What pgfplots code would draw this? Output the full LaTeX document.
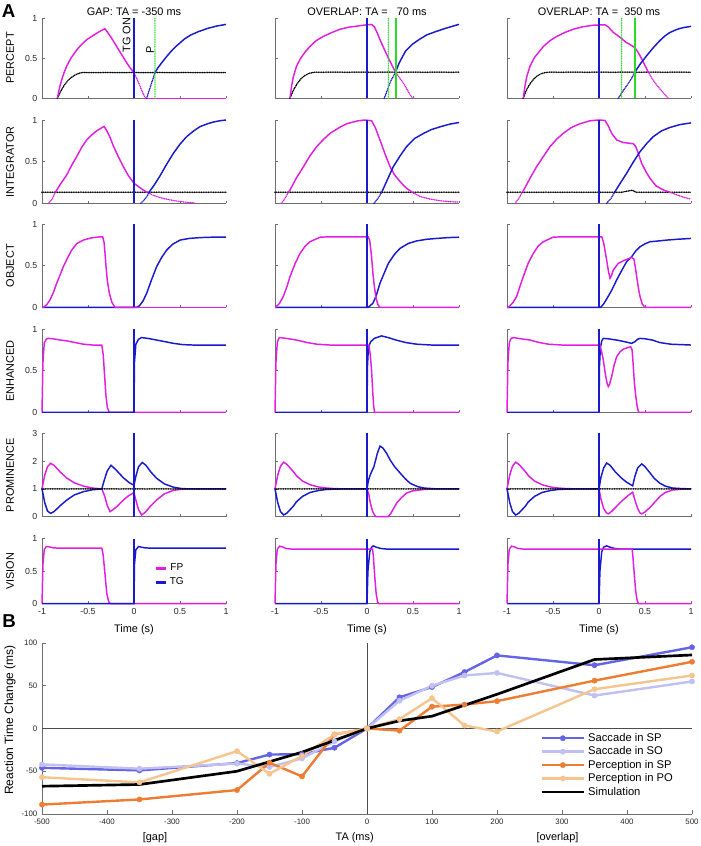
\documentclass[border=0pt]{standalone}
\usepackage{pgfplots}
\pgfplotsset{compat=1.18}
\usepackage{fontspec}
\setmainfont{Liberation Sans}
\definecolor{magC}{RGB}{225,30,225}
\definecolor{bluC}{RGB}{25,25,205}
\definecolor{grnC}{RGB}{40,220,40}
\definecolor{axC}{RGB}{110,110,110}
\definecolor{sacSP}{RGB}{100,100,228}
\definecolor{sacSO}{RGB}{192,192,242}
\definecolor{perSP}{RGB}{236,125,50}
\definecolor{perPO}{RGB}{246,196,142}
\pgfplotsset{
  /pgf/number format/assume math mode=true,
  pa/.style={scale only axis, width=138pt, xmin=-1, xmax=1, ymin=0, ymax=1,
    axis x line*=bottom, axis y line*=left,
    axis line style={-, draw=axC, line width=0.5pt},
    every tick/.style={axC, line width=0.5pt}, tick align=inside, major tick length=2pt,
    xtick={-1,-0.5,0,0.5,1}, ytick={0,0.5,1},
    tick label style={font=\fontsize{6.6}{7}\selectfont, text=black!85},
    anchor=south west, clip=false},
  noxl/.style={xticklabels={}},
  noyl/.style={yticklabels={}},
  c1/.style={at={(31.5pt,#1)}},
  c2/.style={at={(206.25pt,#1)}, noyl},
  c3/.style={at={(380.25pt,#1)}, noyl},
  r1/.style={height=60.2pt, noxl},
  r2/.style={height=62.5pt, noxl},
  r3/.style={height=62.25pt, noxl},
  r4/.style={height=62.25pt, noxl},
  r5/.style={height=62.5pt, noxl, ymax=3, ytick={0,1,2,3}},
  r6/.style={height=48.75pt},
  mg/.style={magC, line width=1.1pt},
  bl/.style={bluC, line width=1.1pt},
  dt/.style={line width=1.25pt, line cap=round, dash pattern=on 0pt off 1.3pt},
  thr/.style={black, line width=1.3pt, line cap=round, dash pattern=on 0pt off 1.3pt},
  gdt/.style={grnC, line width=1.1pt, line cap=round, dash pattern=on 0pt off 1.3pt},
  gsl/.style={grnC, line width=1.5pt},
  bm/.style={line width=1.8pt, mark=*, mark size=2pt, mark options={solid, line width=0.3pt}},
}
\newcommand{\lab}[1]{\fontsize{8.2}{9}\selectfont #1}
\begin{document}
\begin{tikzpicture}
\useasboundingbox (0,0) rectangle (525pt,634.5pt);
% ---------------- labels ----------------
\node[font=\bfseries\fontsize{14}{14}\selectfont] at (6.4pt,625.9pt) {A};
\node[font=\bfseries\fontsize{14}{14}\selectfont] at (6.8pt,168.4pt) {B};
\node[font=\lab{}] at (100.5pt,625.5pt) {GAP: TA = -350 ms};
\node[font=\lab{}] at (275.25pt,625.5pt) {OVERLAP: TA =\ \ \ 70 ms};
\node[font=\lab{}] at (449.25pt,625.5pt) {OVERLAP: TA =\ \ 350 ms};
\node[font=\lab{}, rotate=90] at (7.5pt,591pt) {PERCEPT};
\node[font=\lab{}, rotate=90] at (7.5pt,513.2pt) {INTEGRATOR};
\node[font=\lab{}, rotate=90] at (7.5pt,435.2pt) {OBJECT};
\node[font=\lab{}, rotate=90] at (7.5pt,356.4pt) {ENHANCED};
\node[font=\lab{}, rotate=90] at (7.5pt,278.25pt) {PROMINENCE};
\node[font=\lab{}, rotate=90] at (7.5pt,206.1pt) {VISION};
\node[font=\lab{}] at (100.5pt,162.5pt) {Time (s)};
\node[font=\lab{}] at (275.25pt,162.5pt) {Time (s)};
\node[font=\lab{}] at (449.25pt,162.5pt) {Time (s)};
\node[font=\lab{}, rotate=90] at (95pt,608.3pt) {TG ON};
\node[font=\lab{}, rotate=90] at (112.5pt,597pt) {P};
\node[font=\fontsize{9}{10}\selectfont, rotate=90] at (7.5pt,94.5pt) {Reaction Time Change (ms)};
\node[font=\lab{}] at (266pt,6pt) {TA (ms)};
\node[font=\lab{}] at (116.25pt,6pt) {[gap]};
\node[font=\lab{}] at (418.1pt,6pt) {[overlap]};

% ================= COLUMN 1 : GAP -350 =================
% PERCEPT
\begin{axis}[pa, c1=560.8pt, r1]
\addplot[thr] coordinates {(-0.833,0) (-0.8,0.08) (-0.76,0.16) (-0.72,0.22) (-0.68,0.26) (-0.64,0.29) (-0.6,0.31) (-0.56,0.32) (1,0.32)};
\addplot[mg] coordinates {(-0.833,0) (-0.81,0.13) (-0.786,0.23) (-0.76,0.32) (-0.732,0.40) (-0.68,0.51) (-0.623,0.60) (-0.57,0.67) (-0.514,0.73) (-0.46,0.77) (-0.406,0.81) (-0.36,0.84) (-0.315,0.866) (-0.25,0.76) (-0.188,0.645) (-0.1,0.48) (-0.05,0.39) (0,0.32)};
\addplot[mg,dt] coordinates {(0,0.32) (0.04,0.22) (0.08,0.11) (0.11,0.03) (0.127,0)};
\addplot[mg] coordinates {(0.127,0) (1,0)};
\addplot[bl,dt] coordinates {(0.138,0) (0.16,0.08) (0.18,0.15) (0.2,0.22) (0.228,0.32)};
\addplot[bl] coordinates {(0.228,0.32) (0.26,0.38) (0.3,0.44) (0.355,0.52) (0.4,0.58) (0.45,0.64) (0.5,0.69) (0.55,0.74) (0.62,0.79) (0.7,0.83) (0.8,0.87) (0.9,0.9) (1,0.92)};
\addplot[bl] coordinates {(0,0) (0,1)};
\addplot[gdt] coordinates {(0.228,0) (0.228,1)};
\end{axis}
% INTEGRATOR
\begin{axis}[pa, c1=482.0pt, r2]
\addplot[thr] coordinates {(-1,0.133) (1,0.133)};
\addplot[mg,dt] coordinates {(-0.931,0) (-0.89,0.05) (-0.855,0.133)};
\addplot[mg] coordinates {(-0.855,0.133) (-0.8,0.23) (-0.732,0.34) (-0.68,0.45) (-0.623,0.56) (-0.57,0.67) (-0.514,0.76) (-0.46,0.82) (-0.406,0.87) (-0.36,0.9) (-0.326,0.923) (-0.3,0.88) (-0.26,0.79) (-0.225,0.69) (-0.17,0.56) (-0.116,0.44) (-0.06,0.33) (0,0.24) (0.05,0.2) (0.1,0.16) (0.14,0.133)};
\addplot[mg,dt] coordinates {(0.14,0.133) (0.2,0.1) (0.28,0.07) (0.355,0.05) (0.45,0.03) (0.55,0.015) (0.663,0.005)};
\addplot[bl,dt] coordinates {(0.073,0) (0.11,0.04) (0.14,0.08) (0.163,0.133)};
\addplot[bl] coordinates {(0.163,0.133) (0.22,0.22) (0.283,0.33) (0.35,0.46) (0.428,0.6) (0.5,0.71) (0.572,0.8) (0.65,0.87) (0.717,0.92) (0.8,0.955) (0.862,0.975) (0.93,0.99) (1,1.0)};
\addplot[bl] coordinates {(0,0) (0,1)};
\end{axis}
% OBJECT
\begin{axis}[pa, c1=404.0pt, r3]
\addplot[bl] coordinates {(-1,0) (0.029,0) (0.06,0.02) (0.1,0.08) (0.138,0.17) (0.19,0.33) (0.246,0.49) (0.3,0.6) (0.355,0.69) (0.42,0.76) (0.5,0.81) (0.6,0.83) (0.717,0.84) (0.85,0.845) (1,0.845)};
\addplot[mg] coordinates {(-1,0) (-0.986,0) (-0.95,0.03) (-0.913,0.09) (-0.876,0.18) (-0.84,0.29) (-0.8,0.4) (-0.768,0.49) (-0.72,0.6) (-0.678,0.69) (-0.62,0.77) (-0.551,0.81) (-0.47,0.835) (-0.37,0.85) (-0.34,0.85) (-0.325,0.78) (-0.315,0.65) (-0.304,0.49) (-0.29,0.32) (-0.268,0.17) (-0.24,0.06) (-0.207,0) (0.05,0)};
\addplot[mg] coordinates {(0.05,0) (1,0)};
\addplot[bl] coordinates {(0,0) (0,1)};
\end{axis}
% ENHANCED
\begin{axis}[pa, c1=325.3pt, r4]
\addplot[mg] coordinates {(-1,0) (-0.99,0.6) (-0.975,0.84) (-0.95,0.885) (-0.93,0.89) (-0.88,0.885) (-0.8,0.87) (-0.73,0.86) (-0.64,0.84) (-0.55,0.82) (-0.45,0.81) (-0.35,0.81) (-0.335,0.7) (-0.32,0.45) (-0.305,0.2) (-0.29,0.06) (-0.27,0) (1,0)};
\addplot[bl] coordinates {(-1,0) (0,0) (0.005,0.6) (0.02,0.82) (0.05,0.88) (0.083,0.9) (0.15,0.89) (0.246,0.87) (0.34,0.85) (0.43,0.83) (0.53,0.815) (0.64,0.81) (1,0.81)};
\addplot[bl] coordinates {(0,0) (0,1)};
\end{axis}
% PROMINENCE
\begin{axis}[pa, c1=247.0pt, r5]
\addplot[mg] coordinates {(-1,1) (-0.97,1.5) (-0.94,1.8) (-0.906,1.92) (-0.87,1.85) (-0.8,1.6) (-0.73,1.39) (-0.65,1.22) (-0.55,1.1) (-0.45,1.03) (-0.35,1.0) (-0.32,0.75) (-0.29,0.4) (-0.26,0.18) (-0.23,0.25) (-0.18,0.38) (-0.116,0.6) (-0.06,0.75) (0,0.87) (0.02,0.6) (0.05,0.25) (0.083,0.06) (0.12,0.15) (0.18,0.38) (0.246,0.6) (0.33,0.82) (0.43,0.95) (0.52,0.99) (0.6,1.0) (1,1)};
\addplot[bl] coordinates {(-1,1) (-0.97,0.5) (-0.94,0.2) (-0.906,0.12) (-0.87,0.18) (-0.8,0.4) (-0.73,0.6) (-0.65,0.78) (-0.55,0.9) (-0.45,0.97) (-0.35,1.0) (-0.32,1.35) (-0.29,1.65) (-0.25,1.85) (-0.2,1.7) (-0.116,1.4) (-0.05,1.22) (0,1.13) (0.02,1.45) (0.05,1.8) (0.09,1.95) (0.13,1.85) (0.18,1.62) (0.246,1.38) (0.33,1.18) (0.43,1.06) (0.52,1.01) (0.6,1.0) (1,1)};
\addplot[thr] coordinates {(-1,1) (1,1)};
\addplot[bl] coordinates {(0,0) (0,3)};
\end{axis}
% VISION
\begin{axis}[pa, c1=181.7pt, r6,
  legend style={at={(0.61,0.66)}, anchor=north west, draw=none, fill=none, font=\fontsize{7.5}{8}\selectfont, row sep=0pt, inner sep=0pt},
  legend image code/.code={\draw[#1, line width=2pt] (0pt,0pt) -- (7.5pt,0pt);}]
\addplot[mg] coordinates {(-1,0) (-0.99,0.6) (-0.975,0.84) (-0.95,0.88) (-0.92,0.875) (-0.88,0.86) (-0.82,0.855) (-0.35,0.855) (-0.335,0.75) (-0.315,0.45) (-0.295,0.15) (-0.275,0.03) (-0.255,0) (1,0)};
\addlegendentry{FP}
\addplot[bl] coordinates {(-1,0) (0,0) (0.005,0.6) (0.02,0.83) (0.05,0.88) (0.08,0.87) (0.12,0.86) (0.18,0.855) (1,0.855)};
\addlegendentry{TG}
\addplot[bl, forget plot] coordinates {(0,0) (0,1)};
\end{axis}

% ================= COLUMN 2 : OVERLAP 70 =================
\begin{axis}[pa, c2=560.8pt, r1]
\addplot[thr] coordinates {(-0.837,0) (-0.8,0.1) (-0.76,0.18) (-0.72,0.24) (-0.68,0.28) (-0.64,0.305) (-0.6,0.318) (-0.565,0.325) (1,0.325)};
\addplot[mg] coordinates {(-0.837,0) (-0.82,0.15) (-0.8,0.27) (-0.766,0.4) (-0.72,0.5) (-0.67,0.58) (-0.62,0.645) (-0.55,0.72) (-0.475,0.77) (-0.38,0.82) (-0.293,0.86) (-0.2,0.885) (-0.1,0.9) (-0.04,0.91) (0.05,0.92) (0.08,0.89) (0.11,0.82) (0.141,0.73) (0.2,0.58) (0.25,0.46) (0.31,0.325)};
\addplot[mg,dt] coordinates {(0.31,0.325) (0.35,0.26) (0.395,0.19) (0.44,0.1) (0.47,0.04) (0.497,0)};
\addplot[bl,dt] coordinates {(0.188,0) (0.22,0.1) (0.26,0.22) (0.31,0.325)};
\addplot[bl] coordinates {(0.31,0.325) (0.35,0.44) (0.42,0.59) (0.49,0.67) (0.565,0.73) (0.65,0.79) (0.746,0.83) (0.85,0.87) (0.985,0.916) (1,0.92)};
\addplot[bl] coordinates {(0,0) (0,1)};
\addplot[gdt] coordinates {(0.232,0) (0.232,1)};
\addplot[gsl] coordinates {(0.311,0) (0.311,1)};
\end{axis}
\begin{axis}[pa, c2=482.0pt, r2]
\addplot[thr] coordinates {(-1,0.133) (1,0.133)};
\addplot[mg,dt] coordinates {(-0.93,0) (-0.89,0.06) (-0.855,0.133)};
\addplot[mg] coordinates {(-0.855,0.133) (-0.837,0.16) (-0.77,0.3) (-0.69,0.44) (-0.62,0.57) (-0.547,0.68) (-0.47,0.77) (-0.402,0.84) (-0.3,0.91) (-0.22,0.955) (-0.1,0.99) (-0.02,1.0) (0.05,0.99) (0.09,0.91) (0.141,0.76) (0.2,0.58) (0.25,0.44) (0.3,0.34) (0.36,0.26) (0.42,0.19) (0.49,0.133)};
\addplot[mg,dt] coordinates {(0.49,0.133) (0.58,0.08) (0.69,0.05) (0.8,0.03) (0.9,0.02) (1,0.015)};
\addplot[bl,dt] coordinates {(0.076,0) (0.12,0.06) (0.16,0.133)};
\addplot[bl] coordinates {(0.16,0.133) (0.22,0.28) (0.286,0.44) (0.36,0.57) (0.43,0.68) (0.52,0.78) (0.616,0.84) (0.7,0.885) (0.8,0.92) (0.9,0.95) (1,0.97)};
\addplot[bl] coordinates {(0,0) (0,1)};
\end{axis}
\begin{axis}[pa, c2=404.0pt, r3]
\addplot[bl] coordinates {(-1,0) (0.014,0) (0.065,0.05) (0.1,0.14) (0.141,0.29) (0.19,0.42) (0.232,0.53) (0.3,0.64) (0.359,0.71) (0.45,0.77) (0.54,0.8) (0.65,0.82) (0.757,0.83) (0.88,0.84) (1,0.845)};
\addplot[mg] coordinates {(-1,0) (-0.993,0) (-0.95,0.05) (-0.91,0.13) (-0.87,0.25) (-0.837,0.37) (-0.78,0.53) (-0.728,0.65) (-0.67,0.74) (-0.62,0.79) (-0.51,0.845) (-0.4,0.85) (0.014,0.85) (0.03,0.8) (0.05,0.61) (0.065,0.4) (0.08,0.25) (0.1,0.1) (0.12,0.03) (0.14,0) (1,0)};
\addplot[bl] coordinates {(0,0) (0,1)};
\end{axis}
\begin{axis}[pa, c2=325.3pt, r4]
\addplot[bl] coordinates {(-1,0) (0,0) (0.005,0.55) (0.015,0.78) (0.04,0.85) (0.08,0.89) (0.157,0.92) (0.23,0.9) (0.315,0.87) (0.42,0.84) (0.54,0.82) (0.7,0.81) (1,0.81)};
\addplot[mg] coordinates {(-1,0) (-0.99,0.6) (-0.975,0.84) (-0.96,0.89) (-0.946,0.9) (-0.88,0.89) (-0.766,0.87) (-0.65,0.84) (-0.547,0.82) (-0.4,0.81) (0.02,0.81) (0.035,0.7) (0.05,0.5) (0.062,0.25) (0.072,0.08) (0.082,0) (1,0)};
\addplot[bl] coordinates {(0,0) (0,1)};
\end{axis}
\begin{axis}[pa, c2=247.0pt, r5]
\addplot[mg] coordinates {(-1,1) (-0.97,1.5) (-0.94,1.82) (-0.906,1.96) (-0.87,1.88) (-0.8,1.62) (-0.766,1.47) (-0.7,1.28) (-0.62,1.15) (-0.53,1.07) (-0.44,1.03) (-0.35,1.01) (-0.25,1.0) (0,1) (0.02,0.8) (0.036,0.49) (0.06,0.2) (0.087,0.03) (0.1,0) (0.23,0) (0.26,0.12) (0.29,0.3) (0.323,0.49) (0.37,0.67) (0.43,0.85) (0.5,0.93) (0.62,0.98) (0.75,1.0) (1,1)};
\addplot[bl] coordinates {(-1,1) (-0.97,0.5) (-0.94,0.18) (-0.906,0.06) (-0.87,0.13) (-0.8,0.38) (-0.766,0.54) (-0.7,0.73) (-0.62,0.87) (-0.53,0.94) (-0.44,0.98) (-0.35,0.99) (-0.25,1.0) (0,1) (0.015,1.3) (0.036,1.51) (0.076,1.81) (0.11,2.25) (0.141,2.54) (0.17,2.48) (0.21,2.3) (0.25,2.05) (0.3,1.8) (0.36,1.57) (0.42,1.35) (0.47,1.2) (0.55,1.08) (0.62,1.03) (0.75,1.0) (1,1)};
\addplot[thr] coordinates {(-1,1) (1,1)};
\addplot[bl] coordinates {(0,0) (0,3)};
\end{axis}
\begin{axis}[pa, c2=181.7pt, r6]
\addplot[bl] coordinates {(-1,0) (0,0) (0.01,0.5) (0.03,0.8) (0.05,0.87) (0.069,0.89) (0.1,0.87) (0.15,0.85) (0.22,0.84) (1,0.84)};
\addplot[mg] coordinates {(-1,0) (-0.99,0.6) (-0.975,0.84) (-0.95,0.885) (-0.92,0.875) (-0.88,0.85) (-0.82,0.84) (0.06,0.84) (0.07,0.72) (0.085,0.4) (0.1,0.15) (0.115,0.03) (0.13,0) (1,0)};
\addplot[bl] coordinates {(0,0) (0,1)};
\end{axis}

% ================= COLUMN 3 : OVERLAP 350 =================
\begin{axis}[pa, c3=560.8pt, r1]
\addplot[thr] coordinates {(-0.823,0) (-0.79,0.1) (-0.75,0.18) (-0.71,0.24) (-0.67,0.28) (-0.63,0.305) (-0.59,0.318) (-0.55,0.325) (1,0.325)};
\addplot[mg] coordinates {(-0.823,0) (-0.805,0.15) (-0.785,0.27) (-0.75,0.4) (-0.7,0.51) (-0.65,0.58) (-0.605,0.645) (-0.53,0.72) (-0.46,0.77) (-0.37,0.82) (-0.28,0.86) (-0.18,0.89) (-0.06,0.91) (0.065,0.915) (0.1,0.89) (0.156,0.82) (0.228,0.76) (0.29,0.7) (0.337,0.67) (0.39,0.63) (0.42,0.58) (0.446,0.53) (0.49,0.43) (0.536,0.325)};
\addplot[mg,dt] coordinates {(0.536,0.325) (0.58,0.24) (0.627,0.165) (0.69,0.08) (0.753,0)};
\addplot[bl,dt] coordinates {(0.21,0) (0.26,0.09) (0.31,0.17) (0.35,0.24) (0.39,0.325)};
\addplot[bl] coordinates {(0.39,0.325) (0.45,0.43) (0.518,0.53) (0.59,0.63) (0.663,0.72) (0.72,0.78) (0.772,0.82) (0.83,0.85) (0.88,0.87) (0.94,0.885) (1,0.895)};
\addplot[bl] coordinates {(0,0) (0,1)};
\addplot[gdt] coordinates {(0.246,0) (0.246,1)};
\addplot[gsl] coordinates {(0.39,0) (0.39,1)};
\end{axis}
\begin{axis}[pa, c3=482.0pt, r2]
\addplot[thr] coordinates {(-1,0.133) (0.25,0.133) (0.3,0.145) (0.35,0.155) (0.38,0.15) (0.4,0.133) (1,0.133)};
\addplot[mg,dt] coordinates {(-0.913,0) (-0.87,0.06) (-0.835,0.133)};
\addplot[mg] coordinates {(-0.835,0.133) (-0.823,0.15) (-0.75,0.3) (-0.678,0.44) (-0.6,0.57) (-0.533,0.68) (-0.46,0.77) (-0.388,0.84) (-0.3,0.91) (-0.207,0.955) (-0.1,0.99) (-0.01,1.0) (0.065,0.995) (0.1,0.93) (0.138,0.84) (0.192,0.76) (0.264,0.73) (0.373,0.715) (0.4,0.68) (0.43,0.59) (0.464,0.48) (0.51,0.38) (0.554,0.3) (0.62,0.21) (0.7,0.16) (0.77,0.133)};
\addplot[mg,dt] coordinates {(0.77,0.133) (0.85,0.1) (0.93,0.07) (1,0.05)};
\addplot[bl,dt] coordinates {(0.083,0) (0.13,0.06) (0.17,0.133)};
\addplot[bl] coordinates {(0.17,0.133) (0.23,0.24) (0.3,0.36) (0.37,0.49) (0.446,0.62) (0.52,0.72) (0.59,0.8) (0.68,0.87) (0.77,0.91) (0.88,0.945) (1,0.965)};
\addplot[bl] coordinates {(0,0) (0,1)};
\end{axis}
\begin{axis}[pa, c3=404.0pt, r3]
\addplot[bl] coordinates {(-1,0) (0.018,0) (0.05,0.04) (0.083,0.1) (0.14,0.21) (0.192,0.33) (0.25,0.45) (0.3,0.55) (0.355,0.61) (0.4,0.68) (0.446,0.73) (0.5,0.765) (0.554,0.79) (0.65,0.8) (0.736,0.81) (0.85,0.82) (1,0.83)};
\addplot[mg] coordinates {(-1,0) (-0.986,0) (-0.94,0.05) (-0.895,0.13) (-0.86,0.25) (-0.823,0.37) (-0.77,0.53) (-0.714,0.65) (-0.66,0.74) (-0.605,0.79) (-0.5,0.845) (-0.4,0.85) (0.03,0.85) (0.05,0.78) (0.083,0.57) (0.105,0.42) (0.12,0.35) (0.135,0.38) (0.156,0.45) (0.21,0.53) (0.283,0.57) (0.355,0.6) (0.38,0.58) (0.395,0.48) (0.41,0.37) (0.43,0.22) (0.446,0.13) (0.47,0.04) (0.5,0) (1,0)};
\addplot[bl] coordinates {(0,0) (0,1)};
\end{axis}
\begin{axis}[pa, c3=325.3pt, r4]
\addplot[bl] coordinates {(-1,0) (0,0) (0.005,0.55) (0.015,0.78) (0.03,0.86) (0.047,0.89) (0.1,0.885) (0.192,0.87) (0.28,0.85) (0.355,0.83) (0.39,0.85) (0.42,0.88) (0.446,0.89) (0.5,0.885) (0.58,0.87) (0.66,0.84) (0.78,0.82) (1,0.81)};
\addplot[mg] coordinates {(-1,0) (-0.99,0.6) (-0.975,0.84) (-0.955,0.89) (-0.93,0.9) (-0.85,0.885) (-0.75,0.87) (-0.65,0.84) (-0.55,0.82) (-0.4,0.81) (0.01,0.81) (0.03,0.72) (0.047,0.63) (0.07,0.45) (0.09,0.34) (0.101,0.31) (0.115,0.34) (0.138,0.43) (0.165,0.57) (0.192,0.67) (0.23,0.73) (0.264,0.76) (0.3,0.775) (0.344,0.79) (0.36,0.75) (0.373,0.55) (0.385,0.35) (0.4,0.19) (0.415,0.07) (0.43,0) (1,0)};
\addplot[bl] coordinates {(0,0) (0,1)};
\end{axis}
\begin{axis}[pa, c3=247.0pt, r5]
\addplot[mg] coordinates {(-1,1) (-0.97,1.5) (-0.94,1.82) (-0.906,1.96) (-0.87,1.88) (-0.8,1.62) (-0.766,1.47) (-0.7,1.28) (-0.62,1.15) (-0.53,1.07) (-0.44,1.03) (-0.35,1.01) (-0.25,1.0) (0,1) (0.02,0.65) (0.05,0.3) (0.08,0.14) (0.101,0.1) (0.14,0.2) (0.2,0.4) (0.26,0.6) (0.32,0.77) (0.366,0.88) (0.39,0.6) (0.42,0.3) (0.445,0.14) (0.464,0.1) (0.5,0.17) (0.56,0.35) (0.6,0.5) (0.663,0.73) (0.72,0.87) (0.8,0.96) (0.9,0.99) (1,1)};
\addplot[bl] coordinates {(-1,1) (-0.97,0.5) (-0.94,0.18) (-0.906,0.06) (-0.87,0.13) (-0.8,0.38) (-0.766,0.54) (-0.7,0.73) (-0.62,0.87) (-0.53,0.94) (-0.44,0.98) (-0.35,0.99) (-0.25,1.0) (0,1) (0.02,1.4) (0.05,1.75) (0.083,1.93) (0.12,1.85) (0.18,1.6) (0.24,1.4) (0.3,1.24) (0.366,1.11) (0.39,1.45) (0.42,1.75) (0.464,1.9) (0.5,1.8) (0.56,1.55) (0.6,1.38) (0.663,1.2) (0.72,1.1) (0.8,1.03) (0.9,1.01) (1,1)};
\addplot[thr] coordinates {(-1,1) (1,1)};
\addplot[bl] coordinates {(0,0) (0,3)};
\end{axis}
\begin{axis}[pa, c3=181.7pt, r6]
\addplot[bl] coordinates {(-1,0) (0,0) (0.01,0.5) (0.03,0.8) (0.05,0.87) (0.083,0.89) (0.12,0.87) (0.17,0.85) (0.25,0.84) (1,0.84)};
\addplot[mg] coordinates {(-1,0) (-0.99,0.6) (-0.975,0.84) (-0.95,0.885) (-0.92,0.875) (-0.88,0.85) (-0.82,0.84) (0.36,0.84) (0.37,0.7) (0.385,0.42) (0.4,0.18) (0.415,0.05) (0.43,0) (1,0)};
\addplot[bl] coordinates {(0,0) (0,1)};
\end{axis}

% ================= PANEL B =================
\begin{axis}[scale only axis, width=487.5pt, height=128.25pt, at={(31.5pt,24pt)}, anchor=south west,
  xmin=-500, xmax=500, ymin=-100, ymax=100,
  axis x line*=bottom, axis y line*=left,
  axis line style={-, draw=axC, line width=0.5pt},
  every tick/.style={axC, line width=0.5pt}, tick align=inside, major tick length=3pt,
  xtick={-500,-400,-300,-200,-100,0,100,200,300,400,500}, ytick={-100,-50,0,50,100},
  tick label style={font=\fontsize{5.9}{7}\selectfont, text=black!85},
  legend style={at={(0.766,0.49)}, anchor=north west, draw=none, fill=none,
    font=\fontsize{8.4}{9}\selectfont, row sep=-1.5pt, inner sep=0pt},
  legend cell align=left,
  legend image code/.code={\draw[mark repeat=2, mark phase=2, #1] plot coordinates {(0pt,0pt) (16pt,0pt) (32pt,0pt)};},
  clip=false]
\addplot[forget plot, black!70, line width=0.5pt] coordinates {(-500,0) (500,0)};
\addplot[forget plot, black!70, line width=0.5pt] coordinates {(0,-100) (0,100)};
\addplot[sacSP, bm] coordinates {(-500,-46) (-350,-49) (-200,-40.5) (-150,-30.5) (-100,-30) (-50,-22.5) (0,0) (50,36.5) (100,48.5) (150,66) (200,85.5) (350,74) (500,95)};
\addlegendentry{Saccade in SP}
\addplot[sacSO, bm] coordinates {(-500,-42) (-350,-47) (-200,-41) (-150,-45) (-100,-35) (-50,-15) (0,0) (50,32.5) (100,50) (150,62) (200,65) (350,38.5) (500,55)};
\addlegendentry{Saccade in SO}
\addplot[perSP, bm] coordinates {(-500,-89) (-350,-83) (-200,-72) (-150,-40) (-100,-56) (-50,-7) (0,0) (50,-2.5) (100,25.5) (150,28) (200,32) (350,56) (500,78)};
\addlegendentry{Perception in SP}
\addplot[perPO, bm] coordinates {(-500,-57) (-350,-63) (-200,-26.5) (-150,-53) (-100,-32) (-50,-7) (0,0) (50,11) (100,35.5) (150,3.5) (200,-3.5) (350,46) (500,62)};
\addlegendentry{Perception in PO}
\addplot[black, line width=2pt] coordinates {(-500,-67.5) (-350,-65.5) (-200,-50) (-100,-27.7) (0,0) (50,9) (100,14.4) (200,40) (350,80.7) (500,86)};
\addlegendentry{Simulation}
\end{axis}
\end{tikzpicture}
\end{document}
